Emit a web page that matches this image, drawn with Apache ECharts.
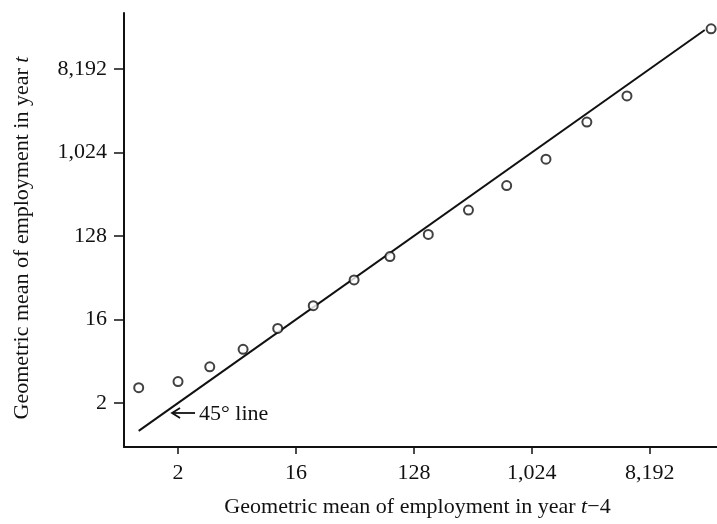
<!DOCTYPE html>
<html>
<head>
<meta charset="utf-8">
<script src="https://cdn.jsdelivr.net/npm/echarts@6/dist/echarts.min.js"></script>
<style>
  html, body { margin: 0; padding: 0; background: #fff; }
  #chart { width: 717px; height: 524px; }
</style>
</head>
<body>
<div id="chart"></div>
<script>
// Geometric mean of employment, year t-4 (x) against year t (y)
const prevYear = [1.0, 2.0, 3.5, 6.3, 11.6, 21.7, 44.6, 83.9, 165, 335, 657, 1314, 2702, 5479, 24150];
const currYear = [2.93, 3.41, 4.92, 7.62, 12.8, 22.6, 42.8, 76.6, 133, 244, 449, 867, 2180, 4180, 22230];
// Ends of the 45-degree reference line (y = x)
const lineEnds = [1.0, 21600];
// Tick labels shared by both axes
const tickValues = [2, 16, 128, 1024, 8192];
// Where the "45° line" arrow points
const arrowTip = [1.8, 1.56];

const FONT = '"Liberation Serif", "Times New Roman", serif';
const INK = '#111';
const lg = v => Math.log2(v);

const points = prevYear.map((x, i) => [lg(x), lg(currYear[i])]);
const diag = lineEnds.map(v => [lg(v), lg(v)]);
const tickPos = tickValues.map(lg);
const fmt = v => Math.round(Math.pow(2, v)).toLocaleString('en-US');

const chart = echarts.init(document.getElementById('chart'), null, { renderer: 'canvas' });

const axisCommon = {
  type: 'value',
  splitLine: { show: false },
  axisLine: { show: true, onZero: false, lineStyle: { color: INK, width: 2 } },
  nameLocation: 'middle'
};
const nameStyle = extra => Object.assign({
  fontFamily: FONT, fontSize: 22, color: INK,
  rich: { i: { fontFamily: FONT, fontSize: 22, color: INK, fontStyle: 'italic' } }
}, extra);

chart.setOption({
  animation: false,
  backgroundColor: '#fff',
  grid: { left: 124, right: 0, top: 13, bottom: 77, containLabel: false, outerBoundsMode: 'none' },
  xAxis: Object.assign({}, axisCommon, {
    min: -0.374, max: 14.71,
    name: 'Geometric mean of employment in year {i|t}\u22124',
    nameGap: 49,
    nameTextStyle: nameStyle({ padding: [0, 6, 0, 0] }),
    axisTick: { show: true, inside: false, length: 7, customValues: tickPos, lineStyle: { color: INK, width: 1.5 } },
    axisLabel: { customValues: tickPos, formatter: fmt, fontFamily: FONT, fontSize: 22, color: INK, margin: 15 }
  }),
  yAxis: Object.assign({}, axisCommon, {
    min: -0.58, max: 15.01,
    name: 'Geometric mean of employment in year {i|t}',
    nameGap: 91,
    nameTextStyle: nameStyle({ padding: [0, 16, 0, 0] }),
    axisTick: { show: true, inside: false, length: 10, customValues: tickPos, lineStyle: { color: INK, width: 1.5 } },
    axisLabel: { customValues: tickPos, formatter: fmt, fontFamily: FONT, fontSize: 22, color: INK, margin: 17 }
  }),
  series: [
    {
      type: 'line',
      data: diag,
      showSymbol: false,
      lineStyle: { color: INK, width: 2 },
      z: 2
    },
    {
      type: 'scatter',
      data: points,
      symbol: 'circle',
      symbolSize: 9,
      itemStyle: { color: '#fff', borderColor: INK, borderWidth: 2 },
      z: 3
    }
  ]
});

// Arrow and caption for the reference line
const tip = chart.convertToPixel({ gridIndex: 0 }, [lg(arrowTip[0]), lg(arrowTip[1])]);
chart.setOption({
  graphic: [
    {
      type: 'group', x: tip[0], y: tip[1],
      children: [
        { type: 'line', shape: { x1: 0, y1: 0, x2: 23, y2: 0 }, style: { stroke: INK, lineWidth: 1.8 } },
        { type: 'polyline', shape: { points: [[8, -5], [0, 0], [8, 5]] }, style: { stroke: INK, lineWidth: 1.8, fill: null } },
        { type: 'text', x: 27, y: 1, style: { text: '45° line', font: '22px ' + FONT, fill: INK, textVerticalAlign: 'middle' } }
      ]
    }
  ]
});
</script>
</body>
</html>
